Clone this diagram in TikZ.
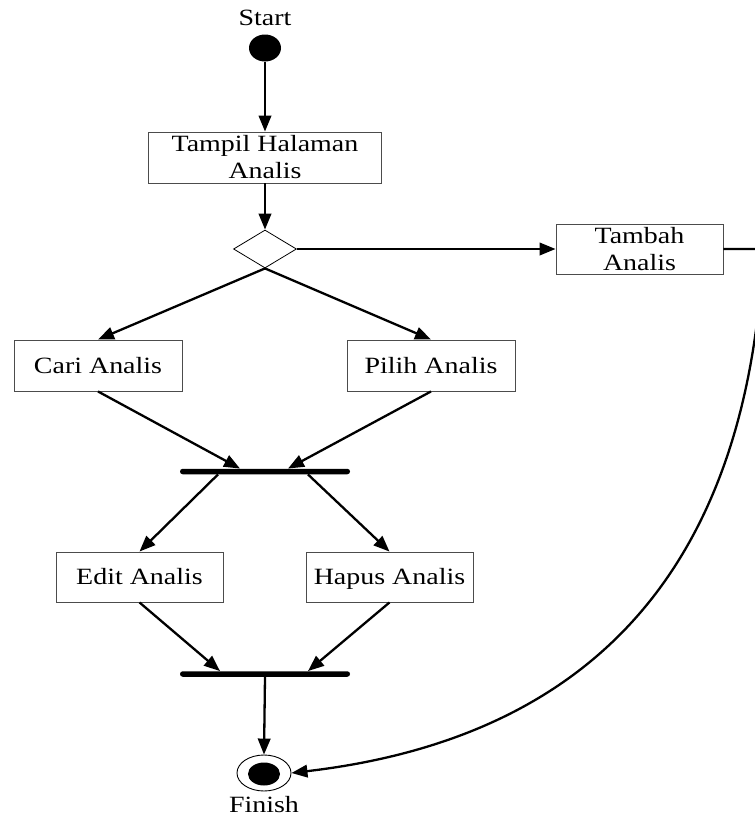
\documentclass[tikz,border=0pt]{standalone}
\usepackage{fontspec}
\setmainfont{Liberation Serif}
\usepackage{graphicx}
\usetikzlibrary{shapes.geometric,arrows.meta}
% slightly widened lettering
\newcommand{\wide}[1]{\scalebox{1.2}[1]{#1}}
\begin{document}
\begin{tikzpicture}[x=1pt,y=-1pt,
  font=\fontsize{23.3}{27}\selectfont,
  act/.style={draw=black!70, line width=0.9pt, fill=white, inner sep=0pt, align=center},
  one/.style={text height=15.5pt, text depth=0pt},
  flow/.style={line width=2.3pt, -{Triangle[length=16pt,width=12.5pt]}},
  syncbar/.style={fill=black, minimum width=170pt, minimum height=5.5pt, inner sep=0pt, rounded corners=2.7pt},
  lbl/.style={inner sep=0pt}]
\useasboundingbox (0,0) rectangle (755,820);

% initial state
\node[lbl] (startlbl) at (265,18) {\wide{Start}};
\node[ellipse, fill=black, minimum width=32pt, minimum height=27pt, inner sep=0pt] (start) at (265,48) {};

% activities
\node[act, minimum width=233pt, minimum height=51pt] (tampil) at (265,157.5) {\wide{Tampil Halaman}\\\wide{Analis}};
\node[diamond, draw, line width=0.8pt, aspect=1.66, minimum width=63pt, minimum height=38pt, inner sep=0pt] (dec) at (265,249) {};
\node[act, minimum width=167pt, minimum height=50pt] (tambah) at (639.5,249) {\wide{Tambah}\\\wide{Analis}};
\node[act, one, minimum width=168pt, minimum height=51pt] (cari) at (98,365.5) {\wide{Cari Analis}};
\node[act, one, minimum width=168pt, minimum height=51pt] (pilih) at (431,365.5) {\wide{Pilih Analis}};
\node[syncbar] (bar1) at (265,471.5) {};
\node[act, one, minimum width=167pt, minimum height=50pt] (edit) at (139.5,577) {\wide{Edit Analis}};
\node[act, one, minimum width=167pt, minimum height=50pt] (hapus) at (389.5,577) {\wide{Hapus Analis}};
\node[syncbar] (bar2) at (265,674) {};

% final state
\node[ellipse, draw, line width=0.9pt, minimum width=54pt, minimum height=36pt, inner sep=0pt] (fin) at (264,773) {};
\node[ellipse, fill=black, minimum width=32pt, minimum height=23pt, inner sep=0pt] (finin) at (264,774) {};
\node[lbl] (finlbl) at (264,805) {\wide{Finish}};

% transitions
\draw[flow] (start) -- (start |- tampil.north);
\draw[flow] (tampil.south) -- (dec.north);
\draw[flow] (dec.east) -- (tambah.west);
\draw[flow] (dec.south) -- (cari.north);
\draw[flow] (dec.south) -- (pilih.north);
\draw[flow] (cari.south) -- ([xshift=-25pt]bar1.north);
\draw[flow] (pilih.south) -- ([xshift=23pt]bar1.north);
\draw[flow] ([xshift=-47pt]bar1.south) -- (edit.north);
\draw[flow] ([xshift=43pt]bar1.south) -- (hapus.north);
\draw[flow] (edit.south) -- ([xshift=-45pt]bar2.north);
\draw[flow] (hapus.south) -- ([xshift=43pt]bar2.north);
\draw[flow] (bar2.south) -- (fin.north);

% return path from Tambah Analis to the end
\coordinate (loop) at (760,295);
\draw[flow] (tambah.east) -| (loop) .. controls (733,580) and (582,739) .. (fin.east);
\end{tikzpicture}
\end{document}
